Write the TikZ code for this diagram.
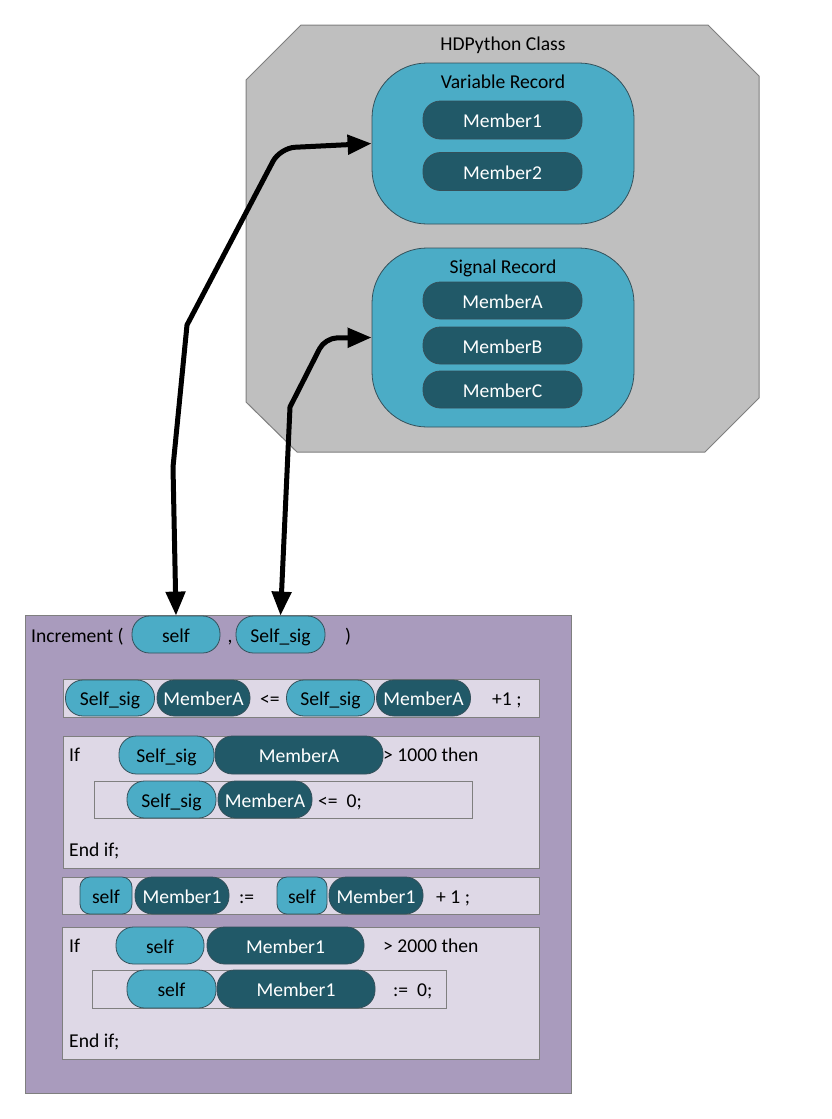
\documentclass[tikz,border=0pt]{standalone}
\usepackage{fontspec}
\setmainfont{Carlito}
\usetikzlibrary{arrows.meta}
\definecolor{clsgray}{HTML}{BFBFBF}
\definecolor{edgegray}{HTML}{7F7F7F}
\definecolor{recblue}{HTML}{4BACC6}
\definecolor{pilldark}{HTML}{215968}
\definecolor{purp}{HTML}{A99BBD}
\definecolor{lpurp}{HTML}{DED8E6}
\definecolor{pilledge}{HTML}{34505A}
\tikzset{
  pill/.style={draw=pilledge, line width=0.8pt, minimum height=37pt, inner sep=0pt,
    text height=15pt, text depth=0pt, rounded corners=17.5pt},
  pillL/.style={pill, fill=recblue, text=black},
  pillD/.style={pill, fill=pilldark, text=white},
  lbl/.style={inner sep=0pt, text height=15pt, text depth=0pt, anchor=west},
  ctext/.style={inner sep=0pt, text height=15pt, text depth=0pt},
  codebox/.style={draw=edgegray, line width=1pt, fill=lpurp, inner sep=0pt},
  rec/.style={draw=pilledge, line width=0.8pt, fill=recblue, inner sep=0pt, rounded corners=55pt},
  arr/.style={line width=5pt, {Triangle[length=24pt,width=19pt]}-{Triangle[length=24pt,width=19pt]}},
}
\begin{document}
\begin{tikzpicture}[x=1pt,y=-1pt,font=\fontsize{19.6}{23}\selectfont]
\useasboundingbox (0,0) rectangle (831,1119);
% class
\draw[draw=edgegray, fill=clsgray, line width=1pt] (301,25) -- (708,25) -- (759,76) -- (759,398) -- (705,452) -- (297,452) -- (246,402) -- (246,80) -- cycle;
\node[ctext] (cls) at (503,43) {HDPython Class};
\node[rec, minimum width=262pt, minimum height=161pt] (vr) at (503,143.5) {};
\node[ctext] (vrl) at (503,81) {Variable Record};
\node[pillD, minimum width=159pt, minimum height=38pt] (m1) at (502.5,120) {Member1};
\node[pillD, minimum width=159pt, minimum height=38pt] (m2) at (502.5,171.5) {Member2};
\node[rec, minimum width=262pt, minimum height=179pt] (sr) at (503,337.5) {};
\node[ctext] (srl) at (503,266) {Signal Record};
\node[pillD, minimum width=159pt] (ma) at (502.5,300.5) {MemberA};
\node[pillD, minimum width=159pt] (mb) at (502.5,345.5) {MemberB};
\node[pillD, minimum width=159pt] (mc) at (502.5,389.5) {MemberC};
% function
\node[draw=edgegray, line width=1pt, fill=purp, inner sep=0pt, minimum width=546pt, minimum height=478pt] (fn) at (298,854) {};
\node[lbl] (inc) at (31,634.5) {Increment (};
\node[pillL, minimum width=88pt] (self) at (176,634.5) {self};
\node[ctext] (comma) at (230,634.5) {,};
\node[pillL, minimum width=89pt] (ss) at (280.5,634.5) {Self\_sig};
\node[lbl] (rp) at (345,634.5) {)};
% row 1
\node[codebox, minimum width=476pt, minimum height=38pt] (r1) at (301,698) {};
\node[pillL, minimum width=89pt, minimum height=36pt] (r1a) at (110,698) {Self\_sig};
\node[pillD, minimum width=93pt, minimum height=36pt] (r1b) at (203.5,698) {MemberA};
\node[lbl] (r1op) at (260,698) {<=};
\node[pillL, minimum width=88pt, minimum height=36pt] (r1c) at (330.5,698) {Self\_sig};
\node[pillD, minimum width=94pt, minimum height=36pt] (r1d) at (423.5,698) {MemberA};
\node[lbl] (r1e) at (492,698) {+1 ;};
% box 2
\node[codebox, minimum width=476pt, minimum height=132pt] (b2) at (301,802.5) {};
\node[lbl] (if1) at (69,754) {If};
\node[pillL, minimum width=95pt, minimum height=38pt] (b2a) at (166.5,755) {Self\_sig};
\node[pillD, minimum width=168pt, minimum height=38pt] (b2b) at (299,755) {MemberA};
\node[lbl] (b2c) at (383,754) {> 1000 then};
\node[codebox, minimum width=378pt, minimum height=37pt] (b2i) at (283,799.5) {};
\node[pillL, minimum width=89pt] (b2d) at (171.5,799.5) {Self\_sig};
\node[pillD, minimum width=94pt] (b2e) at (265,799.5) {MemberA};
\node[lbl] (b2f) at (318,799.5) {<=\ \ 0;};
\node[lbl] (b2g) at (69,849) {End if;};
% box 3
\node[codebox, minimum width=477pt, minimum height=37pt] (b3) at (300.5,895.5) {};
\node[pillL, rounded corners=10pt, minimum width=52pt] (b3a) at (106,895.5) {self};
\node[pillD, minimum width=94pt] (b3b) at (182,895.5) {Member1};
\node[lbl] (b3c) at (239,895.5) {:=};
\node[pillL, rounded corners=10pt, minimum width=50pt] (b3d) at (302,895.5) {self};
\node[pillD, minimum width=94pt] (b3e) at (376,895.5) {Member1};
\node[lbl] (b3f) at (436,895.5) {+ 1 ;};
% box 4
\node[codebox, minimum width=477pt, minimum height=132pt] (b4) at (300.5,993) {};
\node[lbl] (if2) at (69,945) {If};
\node[pillL, minimum width=88pt] (b4a) at (160,945.5) {self};
\node[pillD, minimum width=157pt] (b4b) at (285.5,945.5) {Member1};
\node[lbl] (b4c) at (383,945) {> 2000 then};
\node[codebox, minimum width=354pt, minimum height=38pt] (b4i) at (269,989) {};
\node[pillL, minimum width=89pt, minimum height=38pt] (b4d) at (171.5,989) {self};
\node[pillD, minimum width=158pt, minimum height=38pt] (b4e) at (296,989) {Member1};
\node[lbl] (b4f) at (393,989) {:=\ \ 0;};
\node[lbl] (b4g) at (69,1040) {End if;};
% arrows
\draw[arr] (self.north) -- (173,467) -- (187,325) [rounded corners=15pt] -- (280,148) -- (vr.west);
\draw[arr] (ss.north) -- (290,407) [rounded corners=12pt] -- (325,338) -- (sr.west);
\end{tikzpicture}
\end{document}
